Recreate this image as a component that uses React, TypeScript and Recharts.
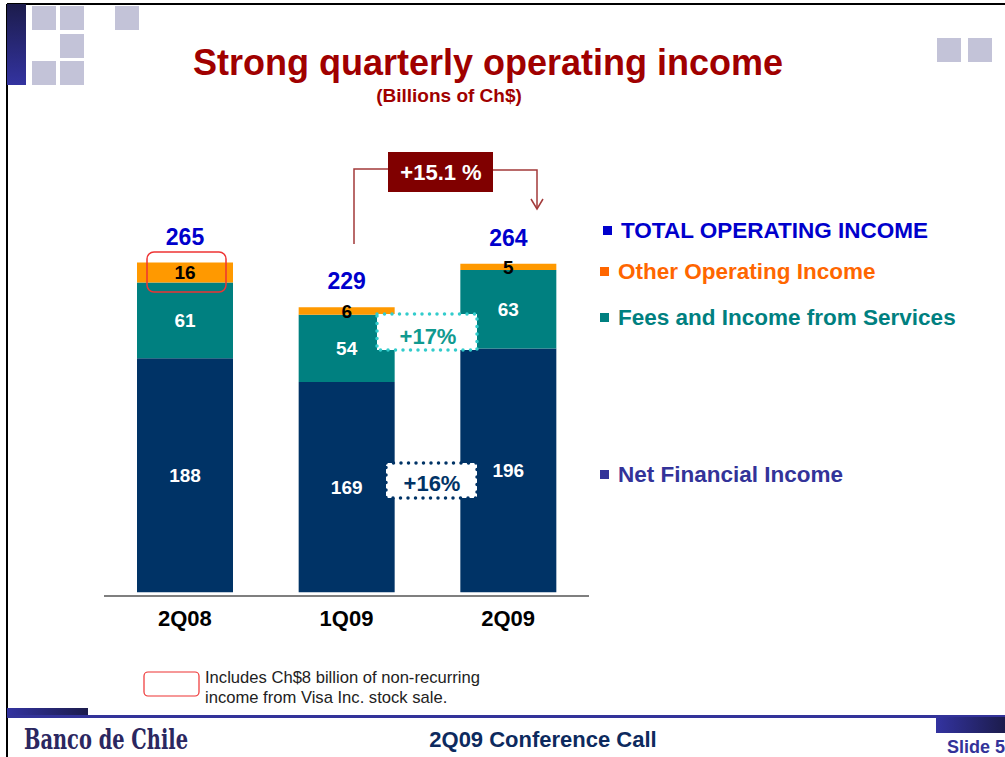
import React from "react";
import { Bar, BarChart, LabelList, XAxis, YAxis } from "recharts";

const quarters = ["2Q08", "1Q09", "2Q09"];
const netFinancialIncome = [188, 169, 196];
const feesAndServices = [61, 54, 63];
const otherOperating = [16, 6, 5];
const totals = [265, 229, 264];

const NAVY = "#003366";
const TEAL = "#008080";
const ORANGE = "#ff9900";
const FONT = "Arial, 'Liberation Sans', Helvetica, sans-serif";
const SQUARE = "#c3c3d8";

const data = quarters.map((q, i) => ({
  quarter: q,
  net: netFinancialIncome[i],
  fees: feesAndServices[i],
  other: otherOperating[i],
  total: totals[i],
}));

function TotalLabel(props: any) {
  const { x, y, width, value } = props;
  return (
    <text
      x={x + width / 2}
      y={y - 26}
      textAnchor="middle"
      dominantBaseline="central"
      fill="#0000cc"
      fontSize={23}
      fontWeight="bold"
      fontFamily={FONT}
    >
      {value}
    </text>
  );
}

function Decor() {
  const squares = [
    [32, 6], [60, 6], [60, 34], [32, 61], [60, 61], [115, 6], [937, 38], [968, 38],
  ];
  return (
    <svg
      width={1005}
      height={757}
      style={{ position: "absolute", left: 0, top: 0, pointerEvents: "none" }}
    >
      <defs>
        <linearGradient id="sideBar" x1="0" y1="0" x2="0" y2="1">
          <stop offset="0" stopColor="#1c1c4c" />
          <stop offset="1" stopColor="#3333a0" />
        </linearGradient>
        <linearGradient id="footLeft" x1="0" y1="0" x2="1" y2="0">
          <stop offset="0" stopColor="#3333a0" />
          <stop offset="1" stopColor="#1c1c4c" />
        </linearGradient>
      </defs>
      {/* slide frame */}
      <line x1={7} y1={4} x2={1005} y2={4} stroke="#000" strokeWidth={2} />
      <line x1={7} y1={4} x2={7} y2={757} stroke="#000" strokeWidth={2} />
      <rect x={7} y={4} width={19} height={81} fill="url(#sideBar)" />
      {squares.map(([x, y], i) => (
        <rect key={i} x={x} y={y} width={24} height={24} fill={SQUARE} />
      ))}

      {/* title */}
      <text x={488} y={62} textAnchor="middle" dominantBaseline="central" fill="#a00000" fontSize={36} fontWeight="bold" fontFamily={FONT}>
        Strong quarterly operating income
      </text>
      <text x={449} y={95} textAnchor="middle" dominantBaseline="central" fill="#a00000" fontSize={19} fontWeight="bold" fontFamily={FONT}>
        (Billions of Ch$)
      </text>

      {/* growth bracket */}
      <polyline points="354,244 354,169 388,169" fill="none" stroke="#a33a3a" strokeWidth={1.5} />
      <polyline points="493,170 537,170 537,209" fill="none" stroke="#a33a3a" strokeWidth={1.5} />
      <polyline points="531,199 537,209 543,199" fill="none" stroke="#a33a3a" strokeWidth={1.5} />
      <rect x={388} y={152} width={105} height={40} fill="#800000" />
      <text x={441} y={172} textAnchor="middle" dominantBaseline="central" fill="#fff" fontSize={22} fontWeight="bold" fontFamily={FONT}>
        +15.1 %
      </text>

      {/* dotted callouts */}
      <rect x={377} y={314} width={100} height={36} fill="#fff" stroke="#33cccc" strokeWidth={3.5} strokeDasharray="0 7.5" strokeLinecap="round" />
      <text x={428} y={336} textAnchor="middle" dominantBaseline="central" fill="#109a90" fontSize={22} fontWeight="bold" fontFamily={FONT}>
        +17%
      </text>
      <rect x={386} y={463} width={91} height={35} fill="#fff" stroke={NAVY} strokeWidth={3.5} strokeDasharray="0 7.5" strokeLinecap="round" />
      <text x={432} y={483} textAnchor="middle" dominantBaseline="central" fill={NAVY} fontSize={22} fontWeight="bold" fontFamily={FONT}>
        +16%
      </text>

      {/* non-recurring highlight */}
      <rect x={147} y={252} width={79} height={40} rx={7} fill="none" stroke="#ee3333" strokeWidth={1.5} />

      {/* legend */}
      {[
        { y: 230, color: "#0000cc", label: "TOTAL OPERATING INCOME", sx: 603, tx: 621 },
        { y: 271, color: "#ff6600", label: "Other Operating Income", sx: 600, tx: 618 },
        { y: 317, color: TEAL, label: "Fees and Income from Services", sx: 600, tx: 618 },
        { y: 474, color: "#333399", label: "Net Financial Income", sx: 600, tx: 618 },
      ].map((l) => (
        <g key={l.label}>
          <rect x={l.sx} y={l.y - 4} width={9} height={9} fill={l.color} />
          <text x={l.tx} y={l.y} dominantBaseline="central" fill={l.color} fontSize={22.5} fontWeight="bold" fontFamily={FONT}>
            {l.label}
          </text>
        </g>
      ))}

      {/* footnote */}
      <rect x={144} y={672} width={55} height={24} rx={4} fill="none" stroke="#ee3333" strokeWidth={1.2} />
      <text x={205} y={677} dominantBaseline="central" fill="#222" fontSize={16.6} fontFamily={FONT}>
        Includes Ch$8 billion of non-recurring
      </text>
      <text x={205} y={697} dominantBaseline="central" fill="#222" fontSize={16.6} fontFamily={FONT}>
        income from Visa Inc. stock sale.
      </text>

      {/* footer */}
      <rect x={7} y={708} width={81} height={10} fill="url(#footLeft)" />
      <rect x={7} y={715} width={998} height={3} fill="#333399" />
      <rect x={936} y={717} width={69} height={16} fill="url(#footLeft)" />
      <text
        x={24}
        y={739}
        dominantBaseline="central"
        fill="#2b2760"
        fontSize={27}
        fontWeight="bold"
        fontFamily="'DejaVu Serif', 'Liberation Serif', serif"
        textLength={164}
        lengthAdjust="spacingAndGlyphs"
      >
        Banco de Chile
      </text>
      <text x={543} y={739} textAnchor="middle" dominantBaseline="central" fill="#0d2a5e" fontSize={22} fontWeight="bold" fontFamily={FONT}>
        2Q09 Conference Call
      </text>
      <text x={947} y={747} dominantBaseline="central" fill="#333399" fontSize={18} fontWeight="bold" fontFamily={FONT}>
        Slide 5
      </text>
    </svg>
  );
}

export default function App() {
  return (
    <div
      style={{
        position: "absolute",
        left: 0,
        top: 0,
        width: 1005,
        height: 757,
        background: "#fff",
        overflow: "hidden",
        fontFamily: FONT,
      }}
    >
      <div style={{ position: "absolute", left: 104, top: 219 }}>
        <BarChart
          width={485}
          height={427}
          data={data}
          margin={{ top: 0, right: 0, left: 0, bottom: 0 }}
        >
          <YAxis hide domain={[-3, 300]} />
          <XAxis
            dataKey="quarter"
            height={50}
            tickLine={false}
            tickMargin={8}
            axisLine={{ stroke: "#555", strokeWidth: 1.5 }}
            tick={{ fill: "#000", fontSize: 22, fontWeight: "bold", fontFamily: FONT }}
          />
          <Bar dataKey="net" stackId="a" fill={NAVY} barSize={96} isAnimationActive={false}>
            <LabelList dataKey="net" position="center" fill="#fff" fontSize={19} fontWeight="bold" fontFamily={FONT} />
          </Bar>
          <Bar dataKey="fees" stackId="a" fill={TEAL} barSize={96} isAnimationActive={false}>
            <LabelList dataKey="fees" position="center" fill="#fff" fontSize={19} fontWeight="bold" fontFamily={FONT} />
          </Bar>
          <Bar dataKey="other" stackId="a" fill={ORANGE} barSize={96} isAnimationActive={false}>
            <LabelList dataKey="other" position="center" fill="#000" fontSize={19} fontWeight="bold" fontFamily={FONT} />
            <LabelList dataKey="total" content={TotalLabel} />
          </Bar>
        </BarChart>
      </div>
      <Decor />
    </div>
  );
}
